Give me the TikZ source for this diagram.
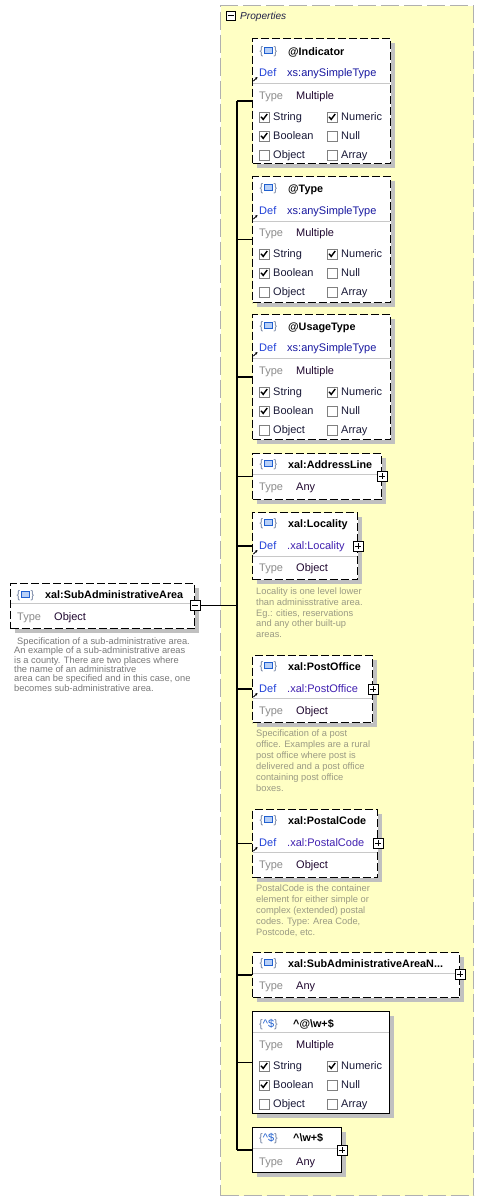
\documentclass[tikz,border=0pt]{standalone}
\usepackage{fontspec}
\setmainfont{Liberation Sans}
\usetikzlibrary{shadows,arrows.meta}
\definecolor{propbg}{HTML}{FFFFC4}
\definecolor{propln}{HTML}{B0B0B0}
\definecolor{shadowc}{HTML}{C0C0C0}
\definecolor{sepc}{HTML}{C8C8C8}
\definecolor{bracec}{HTML}{7080A0}
\definecolor{iconblue}{HTML}{2060D0}
\definecolor{iconfill}{HTML}{B8D0F8}
\definecolor{defc}{HTML}{2040D8}
\definecolor{defv}{HTML}{1818A0}
\definecolor{refv}{HTML}{4020B0}
\definecolor{valc}{HTML}{200830}
\definecolor{typec}{HTML}{8C8C8C}
\definecolor{lblc}{HTML}{1A1A38}
\definecolor{descl}{HTML}{787878}
\definecolor{descc}{HTML}{9A9A84}
\definecolor{cbc}{HTML}{808080}
\definecolor{propt}{HTML}{202048}

\newcommand{\ElIcon}[3]{%
  \node[brace] (#1-il) at (#2+1.5,#3) {\{};
  \node[iconsq] (#1-is) at (#2+8.5,#3-1) {};
  \node[brace] (#1-ir) at (#2+15.5,#3) {\}};
}
\newcommand{\ReIcon}[3]{%
  \node[txt] (#1-i) at (#2,#3) {\textcolor{bracec}{\{}\textcolor{iconblue}{\textasciicircum\$}\textcolor{bracec}{\}}};
}
\newcommand{\NameLine}[3]{% id, y, text
  \node[nametxt] (#1-n) at (288,#2) {#3};
}
\newcommand{\DefLine}[4]{% id, y, value, colour
  \draw[defarrow] (253.5,#2+8) -- ++(4,-4);
  \node[txt,text=defc] (#1-d) at (259,#2) {Def};
  \node[txt,text=#4] (#1-dv) at (287,#2) {#3};
}
\newcommand{\TypeLine}[3]{% id, y, value
  \node[txt,text=typec] (#1-t) at (259,#2) {Type};
  \node[txt,text=valc] (#1-tv) at (296,#2) {#3};
}
\newcommand{\SepLine}[2]{%
  \draw[sepline] ([xshift=1bp]#1.west |- 0,#2) -- ([xshift=-1bp]#1.east |- 0,#2);
}
\newcommand{\CBx}[5]{% id, left x, y, checked, label
  \node[cbox] (#1) at (#2+5,#3) {};
  \ifnum#4=1
    \draw[line width=1.4bp] ([xshift=-3bp,yshift=0.3bp]#1.center) -- ([xshift=-0.8bp,yshift=-2.4bp]#1.center) -- ([xshift=3.2bp,yshift=3bp]#1.center);
  \fi
  \node[txt,text=lblc] (#1-l) at (#2+14,#3) {#5};
}
\newcommand{\CheckGrid}[2]{% id, first row y
  \CBx{#1-c1}{259}{#2}{1}{String}
  \CBx{#1-c2}{327}{#2}{1}{Numeric}
  \CBx{#1-c3}{259}{#2+19}{1}{Boolean}
  \CBx{#1-c4}{327}{#2+19}{0}{Null}
  \CBx{#1-c5}{259}{#2+38}{0}{Object}
  \CBx{#1-c6}{327}{#2+38}{0}{Array}
}
\newcommand{\PlusBox}[2]{% box id, y
  \node[pmbox] (#1-p) at (#1.east |- 0,#2) {};
  \draw[line width=0.9bp] ([xshift=-3.2bp]#1-p.center) -- ([xshift=3.2bp]#1-p.center);
  \draw[line width=0.9bp] ([yshift=-3.2bp]#1-p.center) -- ([yshift=3.2bp]#1-p.center);
}

\begin{document}
\begin{tikzpicture}[x=1bp,y=-1bp,
  txt/.style={inner sep=0pt,anchor=west,font=\fontsize{11bp}{13bp}\selectfont,text height=9bp,text depth=2bp},
  nametxt/.style={txt,font=\fontsize{10.8bp}{13bp}\selectfont\bfseries,text=black},
  brace/.style={inner sep=0pt,font=\fontsize{11bp}{13bp}\selectfont,text=bracec,text height=9bp,text depth=2bp},
  iconsq/.style={draw=iconblue,fill=iconfill,line width=0.9bp,minimum width=8bp,minimum height=6bp,inner sep=0pt},
  ebox/.style={draw=black,line width=1bp,dash pattern=on 8bp off 3bp,fill=white,inner sep=0pt,anchor=north west,
     drop shadow={shadow xshift=4bp,shadow yshift=-4bp,fill=shadowc,opacity=1}},
  sbox/.style={ebox,solid},
  sepline/.style={draw=sepc,line width=1bp},
  defarrow/.style={line width=0.8bp,-{Stealth[length=2.6bp,width=2.6bp]}},
  cbox/.style={draw=cbc,fill=white,line width=0.9bp,minimum size=10bp,inner sep=0pt},
  pmbox/.style={draw=black,fill=white,line width=0.9bp,minimum size=10bp,inner sep=0pt},
  conn/.style={draw=black,line width=1.2bp},
  desc/.style={inner sep=0pt,anchor=north west,align=left,text=descc,font=\fontsize{9.3bp}{10.9bp}\selectfont},
]
\useasboundingbox (0,0) rectangle (486,1201);
\fill[white] (0,0) rectangle (486,1201);

% Properties container
\node[draw=propln,fill=propbg,line width=1.2bp,dash pattern=on 18bp off 5bp,inner sep=0pt,anchor=north west,
  minimum width=253bp,minimum height=1190bp] (props) at (220,5) {};
\node[pmbox,minimum size=9bp] (props-m) at (230.5,15.5) {};
\draw[line width=0.9bp] ([xshift=-3bp]props-m.center) -- ([xshift=3bp]props-m.center);
\node[txt,text=propt,font=\fontsize{10.1bp}{12bp}\selectfont\itshape] (props-t) at (240,16) {Properties};

% left element
\node[ebox,minimum width=184bp,minimum height=45bp] (m0) at (10,583) {};
\ElIcon{m0}{17}{595}
\node[nametxt] (m0-n) at (45,595) {xal:SubAdministrativeArea};
\SepLine{m0}{603}
\node[txt,text=typec] (m0-t) at (17,617) {Type};
\node[txt,text=valc] (m0-tv) at (54,617) {Object};
\node[pmbox] (m0-m) at (m0.east |- 0,605.5) {};
\draw[line width=0.9bp] ([xshift=-3.2bp]m0-m.center) -- ([xshift=3.2bp]m0-m.center);
\node[desc,text=descl,font=\fontsize{9.3bp}{9.3bp}\selectfont] (m0-desc) at (14,637.6) {\hspace{3bp}Specification of a sub-administrative area.\\An example of a sub-administrative areas\\is a county. There are two places where\\the name of an administrative\\area can be specified and in this case, one\\becomes sub-administrative area.};

% b1 @Indicator
\node[ebox,minimum width=138bp,minimum height=125bp] (b1) at (252,38) {};
\ElIcon{b1}{260}{51}
\NameLine{b1}{52}{@Indicator}
\DefLine{b1}{73}{xs:anySimpleType}{defv}
\SepLine{b1}{83}
\TypeLine{b1}{96}{Multiple}
\CheckGrid{b1}{117}

% b2 @Type
\node[ebox,minimum width=138bp,minimum height=126bp] (b2) at (252,176) {};
\ElIcon{b2}{260}{188}
\NameLine{b2}{189}{@Type}
\DefLine{b2}{211}{xs:anySimpleType}{defv}
\SepLine{b2}{221}
\TypeLine{b2}{233}{Multiple}
\CheckGrid{b2}{254}

% b3 @UsageType
\node[ebox,minimum width=138bp,minimum height=125bp] (b3) at (252,314) {};
\ElIcon{b3}{260}{326}
\NameLine{b3}{327}{@UsageType}
\DefLine{b3}{348}{xs:anySimpleType}{defv}
\SepLine{b3}{358}
\TypeLine{b3}{371}{Multiple}
\CheckGrid{b3}{392}

% b4 AddressLine
\node[ebox,minimum width=129bp,minimum height=46bp] (b4) at (252,453) {};
\ElIcon{b4}{260}{464}
\NameLine{b4}{465}{xal:AddressLine}
\SepLine{b4}{474}
\TypeLine{b4}{487}{Any}
\PlusBox{b4}{476}

% b5 Locality
\node[ebox,minimum width=105bp,minimum height=67bp] (b5) at (252,512) {};
\ElIcon{b5}{260}{523}
\NameLine{b5}{524}{xal:Locality}
\DefLine{b5}{546}{.xal:Locality}{refv}
\SepLine{b5}{556}
\TypeLine{b5}{568}{Object}
\PlusBox{b5}{546}
\node[desc] (b5-desc) at (256,587.3) {Locality is one level lower\\than adminisstrative area.\\Eg.: cities, reservations\\and any other built-up\\areas.};

% b6 PostOffice
\node[ebox,minimum width=120bp,minimum height=67bp] (b6) at (252,655) {};
\ElIcon{b6}{260}{666}
\NameLine{b6}{667}{xal:PostOffice}
\DefLine{b6}{689}{.xal:PostOffice}{refv}
\SepLine{b6}{698}
\TypeLine{b6}{711}{Object}
\PlusBox{b6}{689}
\node[desc] (b6-desc) at (256,730) {Specification of a post\\office. Examples are a rural\\post office where post is\\delivered and a post office\\containing post office\\boxes.};

% b7 PostalCode
\node[ebox,minimum width=125bp,minimum height=68bp] (b7) at (252,809) {};
\ElIcon{b7}{260}{820}
\NameLine{b7}{821}{xal:PostalCode}
\DefLine{b7}{843}{.xal:PostalCode}{refv}
\SepLine{b7}{852}
\TypeLine{b7}{865}{Object}
\PlusBox{b7}{843}
\node[desc] (b7-desc) at (256,884.7) {PostalCode is the container\\element for either simple or\\complex (extended) postal\\codes. Type: Area Code,\\Postcode, etc.};

% b8 SubAdministrativeAreaName
\node[ebox,minimum width=207bp,minimum height=45bp] (b8) at (252,952) {};
\ElIcon{b8}{260}{963}
\NameLine{b8}{964}{xal:SubAdministrativeAreaN...}
\SepLine{b8}{973}
\TypeLine{b8}{986}{Any}
\PlusBox{b8}{974}

% b9 ^@\w+$
\node[sbox,minimum width=137bp,minimum height=102bp] (b9) at (252,1011) {};
\ReIcon{b9}{259}{1024}
\node[nametxt] (b9-n) at (293,1024) {\textasciicircum @\textbackslash w+\$};
\SepLine{b9}{1032}
\TypeLine{b9}{1045}{Multiple}
\CheckGrid{b9}{1066}

% b10 ^\w+$
\node[sbox,minimum width=89bp,minimum height=45bp] (b10) at (252,1127) {};
\ReIcon{b10}{259}{1138}
\node[nametxt] (b10-n) at (293,1138) {\textasciicircum\textbackslash w+\$};
\SepLine{b10}{1148}
\TypeLine{b10}{1162}{Any}
\PlusBox{b10}{1150}

% connectors
\coordinate (T) at (237,0);
\draw[conn] (m0-m.east) -- (T |- m0-m.east);
\draw[conn] (T |- b1.west) -- (T |- b10.west);
\foreach \b in {b1,b2,b3,b4,b5,b6,b7,b8,b9,b10}
  \draw[conn] (T |- \b.west) -- (\b.west);
\end{tikzpicture}
\end{document}
